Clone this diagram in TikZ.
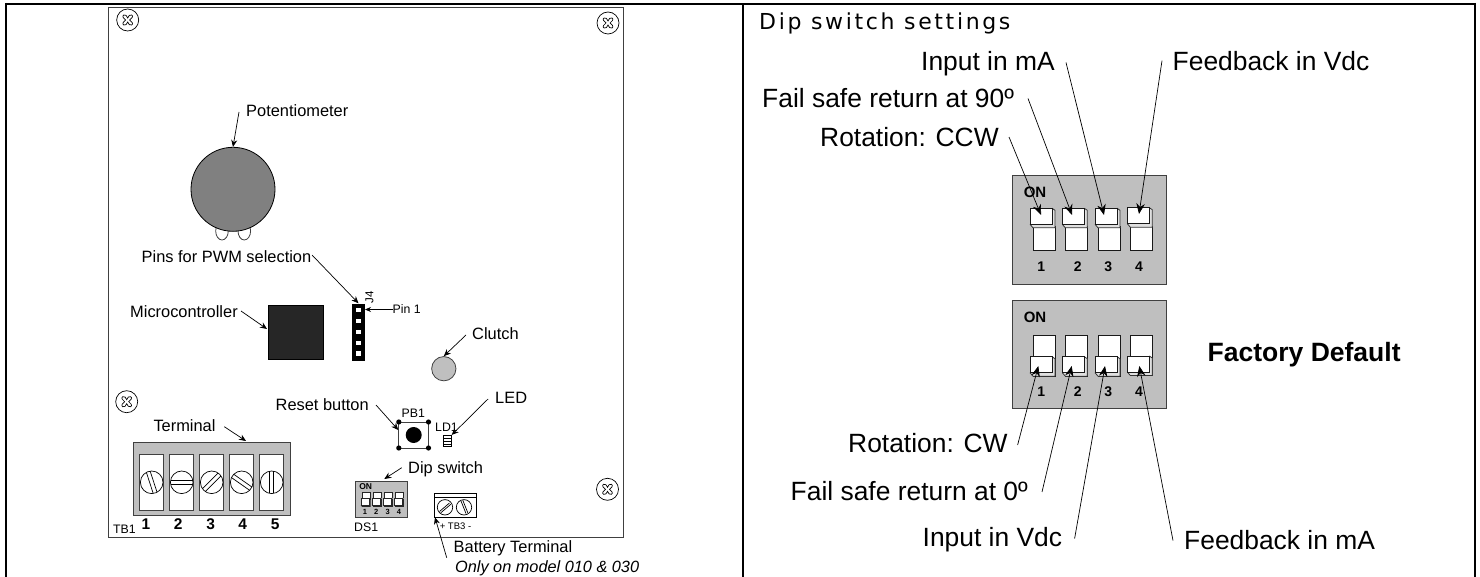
\documentclass[tikz,border=0pt]{standalone}
\usepackage{fontspec}
\setmainfont{Liberation Sans}
\newfontfamily\titlefont[LetterSpace=12]{DejaVu Sans}
\usetikzlibrary{arrows.meta}
\tikzset{
 x=1pt,y=-1pt,
 frameline/.style={line width=2.2pt,black},
 lbl/.style={inner sep=0pt,text height=11.8pt,text depth=0pt,font=\fontsize{16.4}{18}\selectfont,anchor=west},
 smalllbl/.style={inner sep=0pt,text height=8.8pt,text depth=0pt,font=\fontsize{12.3}{14}\selectfont,anchor=west},
 biglbl/.style={inner sep=0pt,text height=18.9pt,text depth=0pt,font=\fontsize{26.4}{29}\selectfont,anchor=west},
 numlbl/.style={inner sep=0pt,font=\bfseries\fontsize{15.5}{17}\selectfont},
 swnum/.style={inner sep=0pt,font=\bfseries\fontsize{14}{16}\selectfont},
 arr/.style={line width=.7pt,-{Stealth[length=7pt,width=6pt]}},
 arrbig/.style={line width=.7pt,-{Stealth[length=10.5pt,width=8.5pt]}},
 part/.style={draw=black!75,line width=.8pt},
 gbox/.style={draw=black!75,line width=1pt,fill=black!25},
}
\newcommand{\screwhole}[2]{%
 \draw[line width=.7pt] (#1,#2) circle[radius=11];
 \draw[line width=.7pt] (#1-4,#2-5) .. controls (#1-2,#2-6) and (#1-1,#2-4) .. (#1,#2-2)
   .. controls (#1+1,#2-4) and (#1+2,#2-6) .. (#1+4,#2-5)
   .. controls (#1+6,#2-4) and (#1+4,#2-1) .. (#1+2,#2)
   .. controls (#1+4,#2+1) and (#1+6,#2+4) .. (#1+4,#2+5)
   .. controls (#1+2,#2+6) and (#1+1,#2+4) .. (#1,#2+2)
   .. controls (#1-1,#2+4) and (#1-2,#2+6) .. (#1-4,#2+5)
   .. controls (#1-6,#2+4) and (#1-4,#2+1) .. (#1-2,#2)
   .. controls (#1-4,#2-1) and (#1-6,#2-4) .. (#1-4,#2-5) -- cycle;}
\newcommand{\termscrew}[3]{% slot-box x, y, angle
 \draw[part,fill=white] (#1,#2-28) rectangle (#1+23.7,#2+28);
 \draw[line width=.7pt,fill=white] (#1+12,#2) circle[radius=11.3];
 \begin{scope}[shift={(#1+12,#2)},rotate=#3]
  \draw[line width=.7pt] (-11,-2) -- (11,-2) (-11,2) -- (11,2);
 \end{scope}}
\newcommand{\bigslot}[3]{%
 \draw[draw=black!90,line width=1pt,fill=white] (#1,#2) rectangle (#1+22,#3);}
\newcommand{\biglever}[2]{%
 \fill[black!12] (#1+1,#2+1) -- (#1+22,#2) -- (#1+25,#2+2) -- (#1+25,#2+19.5) -- (#1+3,#2+19.5) -- (#1,#2+16) -- cycle;
 \draw[black!80,line width=.8pt] (#1+22,#2) -- (#1+25,#2+2) -- (#1+25,#2+19.5) -- (#1+3,#2+19.5) -- (#1,#2+16);
 \draw[black!90,line width=.9pt,fill=white] (#1,#2) rectangle (#1+22,#2+16);}
\newcommand{\tinysw}[1]{%
 \draw[black!85,line width=.6pt,fill=white] (#1+1,492) rectangle (#1+9.3,499);
 \fill[black!12] (#1,498) rectangle (#1+9.3,506.5);
 \draw[black!85,line width=.6pt] (#1+8,498) -- (#1+9.3,499) -- (#1+9.3,506.5) -- (#1+1,506.5) -- (#1,505);
 \draw[black!85,line width=.6pt,fill=white] (#1,498) rectangle (#1+8,505);}
\begin{document}
\begin{tikzpicture}
\useasboundingbox (0,0) rectangle (1480,577);
% table frame
\coordinate (tl) at (5,4); \coordinate (tr) at (1476,4);
\coordinate (bl) at (6,577); \coordinate (mt) at (743,4); \coordinate (mb) at (743,577);
\coordinate (br) at (1475,577);
\draw[frameline] (tl) -- (tr);
\draw[frameline] (mt) -- (mb);
\draw[frameline] (6,3) -- (bl);
\draw[frameline] (1475,3) -- (br);
% board
\draw[line width=.9pt,draw=black!75] (108,7) rectangle (623.5,537);
\screwhole{127.7}{20}
\screwhole{126.7}{401.7}
\screwhole{608}{23}
\screwhole{607.5}{489.3}
% potentiometer
\draw[part,fill=white] (222,231) ellipse[x radius=6.3,y radius=9];
\draw[part,fill=white] (244.3,231) ellipse[x radius=6.3,y radius=9];
\node[circle,draw=black,line width=.8pt,fill=black!50,minimum size=84pt,inner sep=0pt] (pot) at (233,189.3) {};
\node[lbl] (potl) at (246,111) {Potentiometer};
\coordinate (potc) at (239,112);
\draw[arr] (potc) -- (pot.north);
% PWM
\node[lbl] (pwm) at (141.5,257) {Pins for PWM selection};
\coordinate (pwmc) at (312,255);
% J4 header
\node[rectangle,fill=black,minimum width=12.7pt,minimum height=57pt,inner sep=0pt] (j4) at (358.5,332) {};
\foreach \y in {310,320.7,331.7,342.7,353.3}{\fill[white] (356,\y-2.2) rectangle (360.7,\y+2.2);}
\node[rotate=90,inner sep=0pt,font=\fontsize{11.5}{13}\selectfont] (j4l) at (369.5,297) {J4};
\draw[arr] (pwmc) -- (j4.north);
\node[smalllbl] (pin) at (392.5,309.5) {Pin 1};
\coordinate (pinj) at (365,309.5);
\draw[line width=.7pt,-{Stealth[length=6pt,width=5pt]}] (pin.west) -- (pinj);
% micro
\node[rectangle,draw=black,fill=black!85,minimum width=55pt,minimum height=54pt,inner sep=0pt] (mc) at (295.5,332) {};
\node[lbl] (mcl) at (130,312) {Microcontroller};
\coordinate (mcc) at (241,311);
\coordinate (mct) at (267,329);
\draw[arr] (mcc) -- (mct);
% clutch
\node[circle,draw=black!75,line width=.8pt,fill=black!25,minimum size=24.3pt,inner sep=0pt] (cl) at (443.8,368.7) {};
\node[lbl] (cll) at (472,334) {Clutch};
\coordinate (clc) at (466,335);
\draw[arr] (clc) -- (cl.north);
% reset
\draw[line width=.8pt,draw=black!75] (398.8,422) rectangle (428.5,448);
\foreach \a/\b in {398.8/422,428.5/422,398.8/448,428.5/448}{\fill (\a,\b) circle[radius=2.6];}
\node[circle,fill=black,minimum size=16pt,inner sep=0pt] (pb) at (413.7,435) {};
\coordinate (pbb) at (398.3,430);
\node[lbl] (resl) at (275.5,405) {Reset button};
\coordinate (resc) at (376,405);
\draw[arr] (resc) -- (pbb);
\node[smalllbl] (pb1) at (401.5,413.5) {PB1};
% LED
\node[smalllbl] (ld1) at (435,426.7) {LD1};
\node[rectangle,draw=black,line width=.6pt,minimum width=8pt,minimum height=11.5pt,inner sep=0pt] (led) at (447.4,441) {};
\draw[line width=.5pt] (443.4,438.5) -- (451.4,438.5) (443.4,441.5) -- (451.4,441.5) (443.4,444.5) -- (451.4,444.5);
\node[lbl] (ledl) at (495,398) {LED};
\coordinate (ledc) at (488,399);
\draw[arr] (ledc) -- (led.north east);
% terminal
\node[gbox,rectangle,minimum width=157.3pt,minimum height=73.6pt,inner sep=0pt,anchor=north west] (tb) at (132.7,441.7) {};
\termscrew{139.7}{482.3}{-72}
\termscrew{169.7}{482.3}{0}
\termscrew{199.7}{482.3}{45}
\termscrew{229.7}{482.3}{-35}
\termscrew{259.7}{482.3}{90}
\node[lbl] (tl1) at (153.3,426) {Terminal};
\coordinate (tc) at (224.3,426.7);
\draw[arr] (tc) -- (246,441);
\foreach \x/\n in {146/1,178.3/2,210.7/3,242.7/4,275.3/5}{\node[numlbl] (n\n) at (\x,524.3) {\n};}
\node[smalllbl] (tb1) at (113,528.7) {TB1};
% small dip
\node[rectangle,draw=black!75,line width=.8pt,fill=black!25,minimum width=51.4pt,minimum height=36.6pt,inner sep=0pt,anchor=north west] (ds) at (355.3,480.7) {};
\node[inner sep=0pt,font=\bfseries\fontsize{8.5}{10}\selectfont] (dson) at (365.7,486.7) {ON};
\tinysw{361}\tinysw{372.2}\tinysw{383.2}\tinysw{394.2}
\foreach \x/\n in {365/1,376.3/2,387.7/3,399/4}{\node[inner sep=0pt,font=\bfseries\fontsize{7.5}{9}\selectfont] (ds\n) at (\x,511.7) {\n};}
\node[lbl] (dsl) at (408,468) {Dip switch};
\coordinate (dsc) at (401.7,467.7);
\coordinate (dst) at (384.3,479);
\draw[arr] (dsc) -- (dst);
\node[smalllbl] (ds1) at (354,526.7) {DS1};
% TB3
\node[rectangle,draw=black,line width=.8pt,minimum width=41.4pt,minimum height=23.4pt,inner sep=0pt,anchor=north west] (tb3) at (434.3,493.3) {};
\draw[line width=.7pt] (434.3,497.3) -- (475.7,497.3);
\draw[line width=.7pt] (445,507.3) circle[radius=7.7] (464,507.3) circle[radius=7.7];
\draw[line width=.7pt] (439.5,511.5) -- (449.5,503) (440.8,512.8) -- (450.8,504.3);
\draw[line width=.7pt] (461,501) -- (466,513.5) (462.8,500.3) -- (467.8,512.8);
\node[inner sep=0pt,font=\fontsize{9.5}{11}\selectfont] (tb3l) at (455.5,526) {+ TB3 -};
\node[lbl] (batl) at (453.5,547) {Battery Terminal};
\node[lbl,font=\itshape\fontsize{16.3}{18}\selectfont] (batm) at (455,567) {Only on model 010 \& 030};
\coordinate (batc) at (446.7,557.7);
\coordinate (batt) at (435,517.3);
\draw[arr] (batc) -- (batt);
% right panel
\node[inner sep=0pt,anchor=west,font=\titlefont\fontsize{22}{24}\selectfont] (title) at (759,23) {Dip switch settings};
\node[biglbl] (i1) at (921,61) {Input in mA};
\node[biglbl] (f1) at (1172.5,61) {Feedback in Vdc};
\node[biglbl] (s1) at (762,98.5) {Fail safe return at 90º};
\node[biglbl] (r1) at (820,137) {Rotation: CCW};
\node[gbox,rectangle,minimum width=154pt,minimum height=108.7pt,inner sep=0pt,anchor=north west] (top) at (1012,175) {};
\node[gbox,rectangle,minimum width=154pt,minimum height=108.3pt,inner sep=0pt,anchor=north west] (bot) at (1012,300) {};
\node[inner sep=0pt,font=\bfseries\fontsize{15}{17}\selectfont] (onA) at (1035,192.7) {ON};
\node[inner sep=0pt,font=\bfseries\fontsize{15}{17}\selectfont] (onB) at (1035,317.7) {ON};
% top switches
\bigslot{1033.3}{226.7}{251}\biglever{1030}{208.3}
\bigslot{1065.7}{226.7}{251}\biglever{1062.3}{208.3}
\bigslot{1098}{226.7}{251}\biglever{1095}{208.3}
\bigslot{1130.3}{226.7}{250.5}\biglever{1127.3}{207.7}
% bottom switches
\bigslot{1033.3}{335.7}{376}\biglever{1030}{356.7}
\bigslot{1065.7}{335.7}{376}\biglever{1062.3}{356.7}
\bigslot{1098}{335.7}{376}\biglever{1095}{356.7}
\bigslot{1130.3}{335}{375.5}\biglever{1127.3}{356}
\foreach \x/\n in {1041.3/1,1077.7/2,1108.3/3,1139/4}{\node[swnum] (a\n) at (\x,266.7) {\n};}
\foreach \x/\n in {1041.3/1,1077.7/2,1108.3/3,1139/4}{\node[swnum] (b\n) at (\x,391.7) {\n};}
\node[inner sep=0pt,anchor=west,text height=18.9pt,text depth=0pt,font=\bfseries\fontsize{26.5}{29}\selectfont] (fd) at (1207.5,352) {Factory Default};
\node[biglbl] (r2) at (848,443) {Rotation: CW};
\node[biglbl] (s2) at (790.5,491) {Fail safe return at 0º};
\node[biglbl] (i2) at (922.5,537.5) {Input in Vdc};
\node[biglbl] (f2) at (1184,540.5) {Feedback in mA};
% top arrows
\coordinate (ra) at (1009,137); \coordinate (rb) at (1041,215);
\coordinate (sa) at (1028,98.5); \coordinate (sb) at (1072,215);
\coordinate (ia) at (1066,62.5); \coordinate (ib) at (1104,215);
\coordinate (fa) at (1162,60.7); \coordinate (fb) at (1139,214);
\draw[arrbig] (ra) -- (rb);
\draw[arrbig] (sa) -- (sb);
\draw[arrbig] (ia) -- (ib);
\draw[arrbig] (fa) -- (fb);
% bottom arrows
\coordinate (ra2) at (1017.6,445); \coordinate (rb2) at (1038.3,366);
\coordinate (sa2) at (1042,492); \coordinate (sb2) at (1071.7,366);
\coordinate (ia2) at (1074.6,538.6); \coordinate (ib2) at (1105,366);
\coordinate (fa2) at (1173,540.5); \coordinate (fb2) at (1139.3,366);
\draw[arrbig] (ra2) -- (rb2);
\draw[arrbig] (sa2) -- (sb2);
\draw[arrbig] (ia2) -- (ib2);
\draw[arrbig] (fa2) -- (fb2);
\end{tikzpicture}
\end{document}
